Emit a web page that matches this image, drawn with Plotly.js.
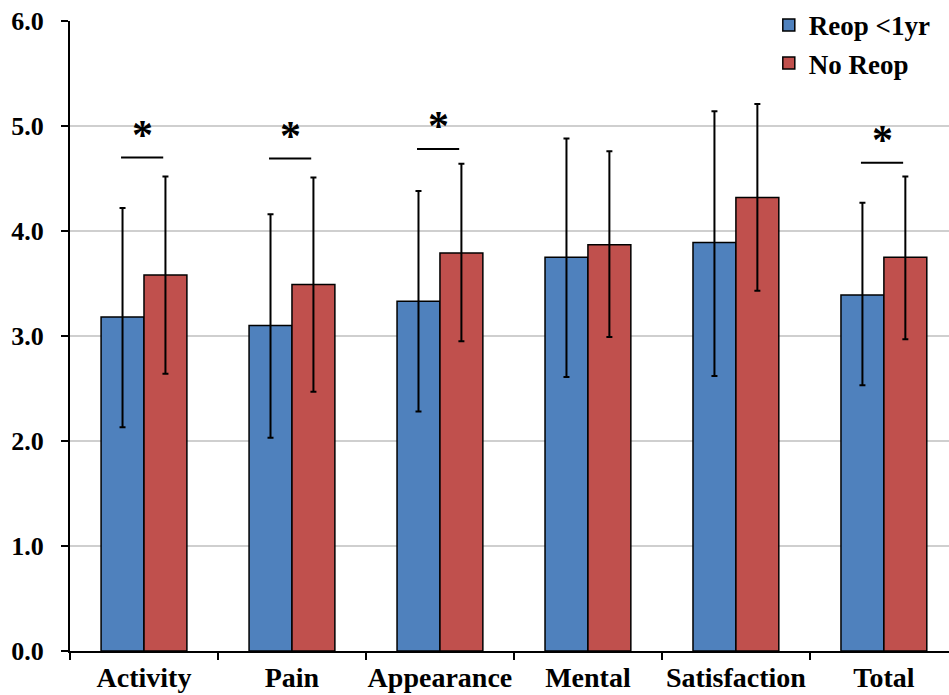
<!DOCTYPE html>
<html><head><meta charset="utf-8">
<script src="https://cdn.plot.ly/plotly-3.0.1.min.js"></script>
<style>html,body{margin:0;padding:0;background:#fff}#chart{width:949px;height:695px}</style>
</head><body><div id="chart"></div>
<script>
const categories = ['Activity','Pain','Appearance','Mental','Satisfaction','Total'];
const reopMean  = [3.18, 3.10, 3.33, 3.75, 3.89, 3.39];
const reopUpper = [4.22, 4.16, 4.38, 4.88, 5.14, 4.27];
const reopLower = [2.13, 2.03, 2.28, 2.61, 2.62, 2.53];
const noMean  = [3.58, 3.49, 3.79, 3.87, 4.32, 3.75];
const noUpper = [4.52, 4.51, 4.64, 4.76, 5.21, 4.52];
const noLower = [2.64, 2.47, 2.95, 2.99, 3.43, 2.97];
const sigCats = ['Activity','Pain','Appearance','Total'];
const sigY = [4.70, 4.69, 4.78, 4.65];
const yTicks = [0,1,2,3,4,5,6];

const serif = 'Liberation Serif, Times New Roman, serif';
function errs(mean, up, lo){
  return {type:'data', symmetric:false,
    array: mean.map((m,i)=>+(up[i]-m).toFixed(3)),
    arrayminus: mean.map((m,i)=>+(m-lo[i]).toFixed(3)),
    color:'#000', thickness:2, width:3};
}
const traces = [
  {type:'bar', name:'<b>Reop <1yr</b>', x:categories, y:reopMean, legendgroup:'a',
   marker:{color:'#4F81BD', line:{color:'#000', width:1.5}}, error_y:errs(reopMean,reopUpper,reopLower)},
  {type:'bar', name:'<b>No Reop</b>', x:categories, y:noMean, legendgroup:'b',
   marker:{color:'#C0504D', line:{color:'#000', width:1.5}}, error_y:errs(noMean,noUpper,noLower)}
];
const shapes = [
  {type:'rect', xref:'paper', yref:'paper', x0:0.745, x1:1.01, y0:0.985, y1:1.02,
   fillcolor:'#fff', line:{width:0}, layer:'below'}
];
const annotations = [];
sigCats.forEach((c,k)=>{
  const i = categories.indexOf(c);
  shapes.push({type:'line', xref:'x', yref:'y', x0:i-0.155, x1:i+0.13, y0:sigY[k], y1:sigY[k],
    line:{color:'#000', width:2}});
  annotations.push({xref:'x', yref:'y', x:i-0.01, y:sigY[k], text:'<b>*</b>', showarrow:false,
    yanchor:'bottom', yshift:-2, font:{family:serif, size:42, color:'#000'}});
});
const layout = {
  width:949, height:695,
  margin:{l:70, r:0, t:21, b:44},
  paper_bgcolor:'#fff', plot_bgcolor:'#fff',
  barmode:'group', bargap:0.42, bargroupgap:0,
  showlegend:true,
  legend:{x:0.795, y:1.032, xanchor:'left', yanchor:'top', bgcolor:'rgba(255,255,255,0)',
    font:{family:serif, size:27, color:'#000'}, tracegroupgap:16, traceorder:'normal'},
  xaxis:{type:'category', range:[-0.5, 5.44], showline:true, linecolor:'#000', linewidth:2,
    ticks:'outside', tickson:'boundaries', ticklen:7, tickwidth:2, tickcolor:'#000',
    tickangle:0, automargin:false,
    showgrid:false, tickfont:{family:serif, size:28, color:'#000'}},
  yaxis:{range:[0,6], tickvals:yTicks, ticktext:yTicks.map(v=>'<b>'+v.toFixed(1)+'</b>'),
    showline:true, linecolor:'#000', linewidth:2, ticks:'outside', ticklen:7, tickwidth:2, tickcolor:'#000',
    ticklabelstandoff:12, automargin:false,
    showgrid:true, gridcolor:'#cfcfcf', gridwidth:1.5, zeroline:false,
    tickfont:{family:serif, size:26, color:'#000'}},
  shapes:shapes, annotations:annotations
};
layout.xaxis.ticktext = categories.map(c=>'<b>'+c+'</b>');
layout.xaxis.tickvals = categories;
Plotly.newPlot('chart', traces, layout, {displayModeBar:false, staticPlot:true});
</script></body></html>
